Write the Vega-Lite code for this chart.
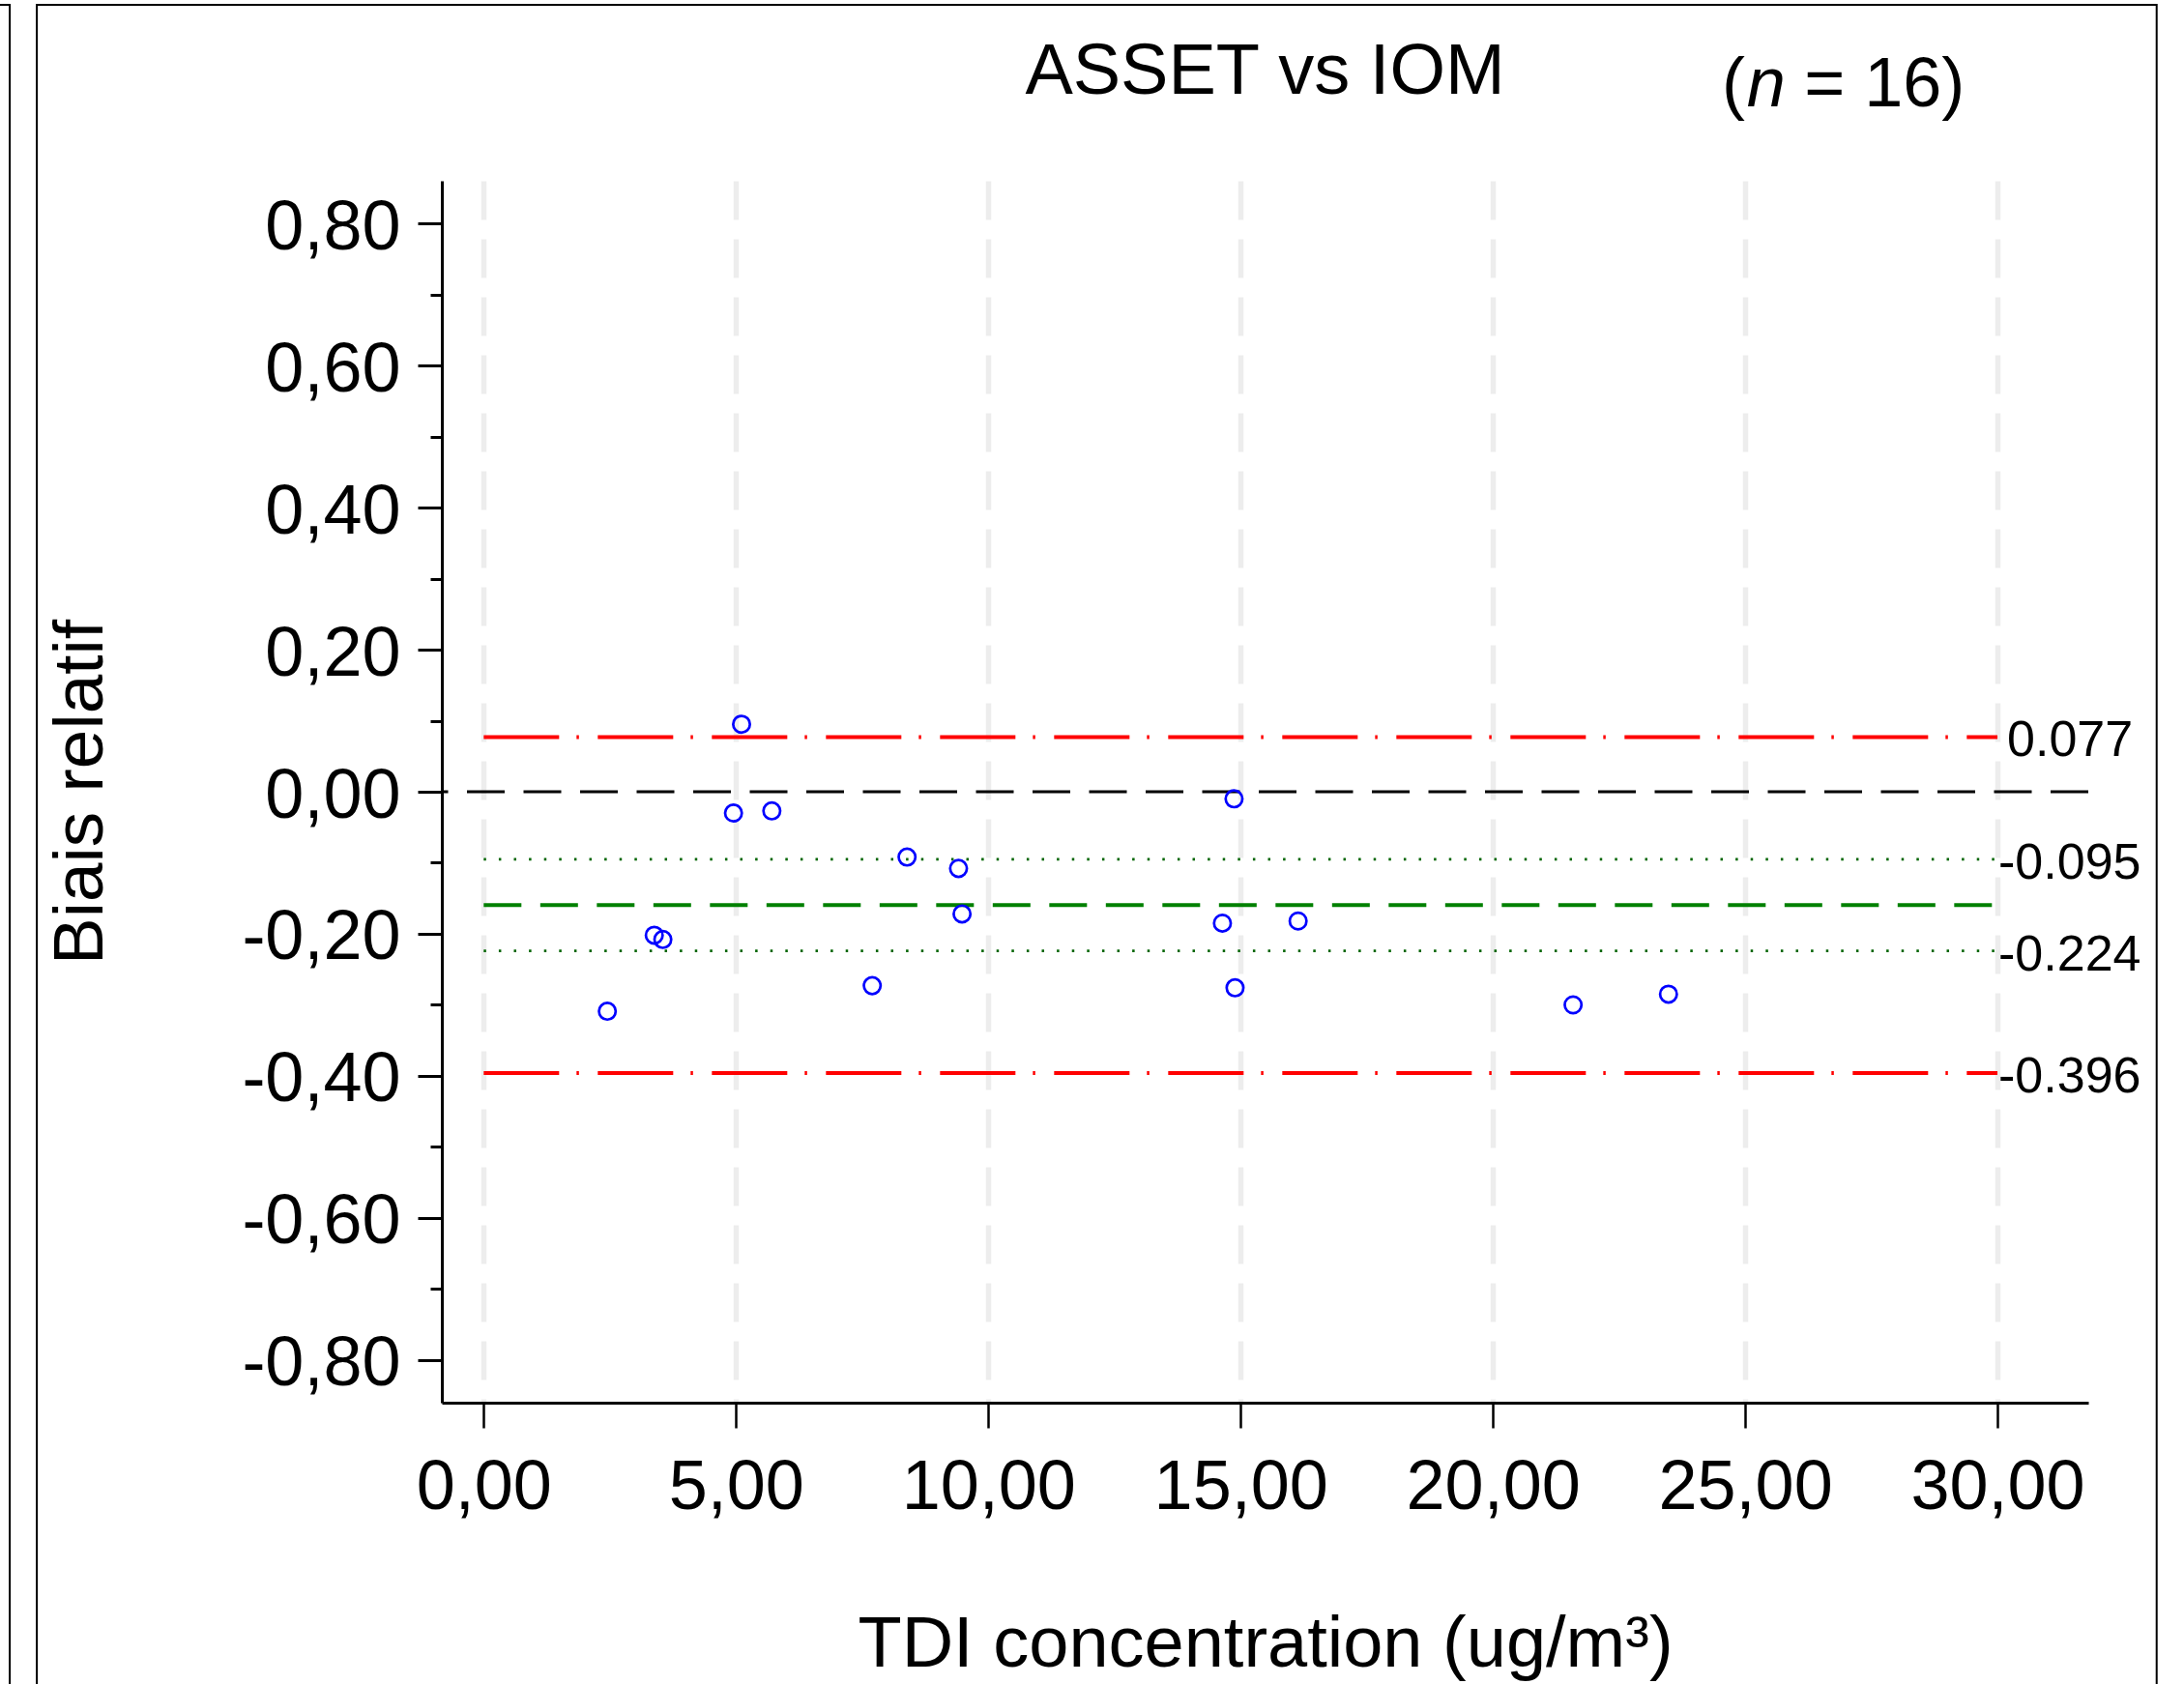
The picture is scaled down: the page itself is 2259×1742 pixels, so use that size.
{
  "$schema": "https://vega.github.io/schema/vega-lite/v6.json",
  "autosize": {"type": "none"},
  "padding": {"left": 457, "top": 187, "right": 99, "bottom": 291},
  "width": 1703,
  "height": 1264,
  "background": "white",
  "config": {
    "font": "Liberation Sans",
    "locale": {"number": {"decimal": ",", "thousands": ".", "grouping": [3], "currency": ["", " €"], "minus": "-"}},
    "view": {"stroke": null},
    "axis": {
      "labelColor": "black", "titleColor": "black", "tickColor": "black", "domainColor": "black",
      "labelFont": "Liberation Sans", "titleFont": "Liberation Sans", "titleFontWeight": "normal",
      "labelOverlap": false, "labelFlush": false, "labelLimit": 500, "titleLimit": 3000
    }
  },
  "title": {
    "text": "ASSET vs IOM", "fontSize": 74, "font": "Liberation Sans", "fontWeight": "normal",
    "color": "black", "anchor": "middle", "frame": "group", "baseline": "alphabetic", "offset": -167
  },
  "datasets": {
    "points": [
      {"tdi": 2.45, "bias": -0.309},
      {"tdi": 3.38, "bias": -0.202},
      {"tdi": 3.55, "bias": -0.208},
      {"tdi": 4.95, "bias": -0.030},
      {"tdi": 5.11, "bias": 0.095},
      {"tdi": 5.71, "bias": -0.027},
      {"tdi": 7.70, "bias": -0.273},
      {"tdi": 8.39, "bias": -0.092},
      {"tdi": 9.41, "bias": -0.108},
      {"tdi": 9.48, "bias": -0.172},
      {"tdi": 14.64, "bias": -0.185},
      {"tdi": 14.87, "bias": -0.010},
      {"tdi": 14.89, "bias": -0.276},
      {"tdi": 16.14, "bias": -0.182},
      {"tdi": 21.59, "bias": -0.300},
      {"tdi": 23.48, "bias": -0.285}
    ],
    "lines": [
      {"line": "upper LoA", "value": 0.077, "label": "0.077"},
      {"line": "upper CI", "value": -0.095, "label": "-0.095"},
      {"line": "mean bias", "value": -0.1595, "label": ""},
      {"line": "lower CI", "value": -0.224, "label": "-0.224"},
      {"line": "lower LoA", "value": -0.396, "label": "-0.396"},
      {"line": "zero", "value": 0, "label": ""}
    ]
  },
  "resolve": {"scale": {"x": "shared", "y": "shared"}, "axis": {"y": "independent"}},
  "layer": [
    {
      "data": {"values": [{}]},
      "mark": {"type": "rect", "fill": "transparent", "stroke": "black", "strokeWidth": 2, "clip": false},
      "encoding": {
        "x": {"datum": -8.856, "type": "quantitative"},
        "x2": {"datum": 33.155},
        "y": {"datum": 1.1076, "type": "quantitative", "axis": null},
        "y2": {"datum": -1.5}
      }
    },
    {
      "data": {"values": [{}]},
      "mark": {"type": "rect", "fill": "transparent", "stroke": "black", "strokeWidth": 2, "clip": false},
      "encoding": {
        "x": {"datum": -20, "type": "quantitative"},
        "x2": {"datum": -9.393},
        "y": {"datum": 1.1076, "type": "quantitative", "axis": null},
        "y2": {"datum": -1.5}
      }
    },
    {
      "data": {"name": "lines"},
      "transform": [{"filter": "datum.line === 'zero'"}],
      "mark": {"type": "rule", "color": "black", "strokeWidth": 3, "strokeDash": [39, 19.5]},
      "encoding": {
        "y": {"field": "value", "type": "quantitative", "axis": null}
      }
    },
    {
      "data": {"name": "lines"},
      "transform": [{"filter": "datum.line === 'upper LoA' || datum.line === 'lower LoA'"}],
      "mark": {"type": "rule", "color": "#ff0000", "strokeWidth": 4, "strokeDash": [78, 18, 2.5, 19.5]},
      "encoding": {
        "x": {"datum": 0, "type": "quantitative"},
        "x2": {"datum": 30},
        "y": {"field": "value", "type": "quantitative", "axis": null}
      }
    },
    {
      "data": {"name": "lines"},
      "transform": [{"filter": "datum.line === 'upper CI' || datum.line === 'lower CI'"}],
      "mark": {"type": "rule", "color": "#006400", "strokeWidth": 2.7, "strokeDash": [2.5, 13.1]},
      "encoding": {
        "x": {"datum": 0, "type": "quantitative"},
        "x2": {"datum": 30},
        "y": {
          "field": "value", "type": "quantitative",
          "axis": {
            "orient": "left", "values": [-0.7, -0.5, -0.3, -0.1, 0.1, 0.3, 0.5, 0.7],
            "labels": false, "domain": false, "grid": false, "ticks": true,
            "tickSize": 12, "tickWidth": 3, "title": null
          }
        }
      }
    },
    {
      "data": {"name": "lines"},
      "transform": [{"filter": "datum.line === 'mean bias'"}],
      "mark": {"type": "rule", "color": "#008000", "strokeWidth": 4, "strokeDash": [39, 19.5]},
      "encoding": {
        "x": {"datum": 0, "type": "quantitative"},
        "x2": {"datum": 30},
        "y": {"field": "value", "type": "quantitative", "axis": null}
      }
    },
    {
      "data": {"name": "lines"},
      "transform": [{"filter": "datum.label !== '' && datum.value >= 0"}],
      "mark": {"type": "text", "align": "left", "baseline": "alphabetic", "dx": 10, "dy": 20, "fontSize": 52, "font": "Liberation Sans", "color": "black", "clip": false},
      "encoding": {
        "x": {"datum": 30, "type": "quantitative"},
        "y": {"field": "value", "type": "quantitative", "axis": null},
        "text": {"field": "label"}
      }
    },
    {
      "data": {"name": "lines"},
      "transform": [{"filter": "datum.label !== '' && datum.value < 0"}],
      "mark": {"type": "text", "align": "left", "baseline": "alphabetic", "dx": 1, "dy": 20, "fontSize": 52, "font": "Liberation Sans", "color": "black", "clip": false},
      "encoding": {
        "x": {"datum": 30, "type": "quantitative"},
        "y": {"field": "value", "type": "quantitative", "axis": null},
        "text": {"field": "label"}
      }
    },
    {
      "data": {"name": "points"},
      "mark": {"type": "point", "shape": "circle", "filled": false, "color": "#0000ff", "strokeWidth": 2.7, "size": 300, "opacity": 1},
      "encoding": {
        "x": {
          "field": "tdi", "type": "quantitative",
          "scale": {"domain": [-0.83, 31.8], "nice": false, "zero": false},
          "axis": {
            "values": [0, 5, 10, 15, 20, 25, 30], "format": ".2f",
            "grid": true, "gridColor": "#ededed", "gridWidth": 5.5, "gridDash": [40, 20],
            "tickSize": 26, "tickWidth": 2.5, "domainWidth": 3,
            "labelPadding": 26, "labelFontSize": 72,
            "title": "TDI concentration (ug/m³)", "titleFontSize": 74,
            "titleY": 272, "titleBaseline": "alphabetic"
          }
        },
        "y": {
          "field": "bias", "type": "quantitative",
          "scale": {"domain": [-0.86, 0.86], "nice": false, "zero": false},
          "axis": {
            "orient": "left",
            "values": [-0.8, -0.6, -0.4, -0.2, 0, 0.2, 0.4, 0.6, 0.8], "format": ".2f",
            "grid": false, "tickSize": 25, "tickWidth": 3, "domainWidth": 3,
            "labelPadding": 18, "labelFontSize": 72, "labelOffset": 4,
            "title": "Biais relatif", "titleFontSize": 73, "titleAngle": -90,
            "titleX": -352, "titleY": 632, "titleBaseline": "alphabetic", "titleAlign": "center"
          }
        }
      }
    },
    {
      "data": {"values": [{}]},
      "mark": {"type": "text", "text": "(", "align": "right", "baseline": "alphabetic", "fontSize": 72, "font": "Liberation Sans", "color": "black", "clip": false},
      "encoding": {
        "x": {"datum": 25.0, "type": "quantitative"},
        "y": {"datum": 0.9648, "type": "quantitative", "axis": null}
      }
    },
    {
      "data": {"values": [{}]},
      "mark": {"type": "text", "text": "n", "fontStyle": "italic", "align": "left", "baseline": "alphabetic", "fontSize": 72, "font": "Liberation Sans", "color": "black", "clip": false},
      "encoding": {
        "x": {"datum": 25.03, "type": "quantitative"},
        "y": {"datum": 0.9648, "type": "quantitative", "axis": null}
      }
    },
    {
      "data": {"values": [{}]},
      "mark": {"type": "text", "text": "= 16)", "align": "left", "baseline": "alphabetic", "fontSize": 72, "font": "Liberation Sans", "color": "black", "clip": false},
      "encoding": {
        "x": {"datum": 26.17, "type": "quantitative"},
        "y": {"datum": 0.9648, "type": "quantitative", "axis": null}
      }
    }
  ]
}
